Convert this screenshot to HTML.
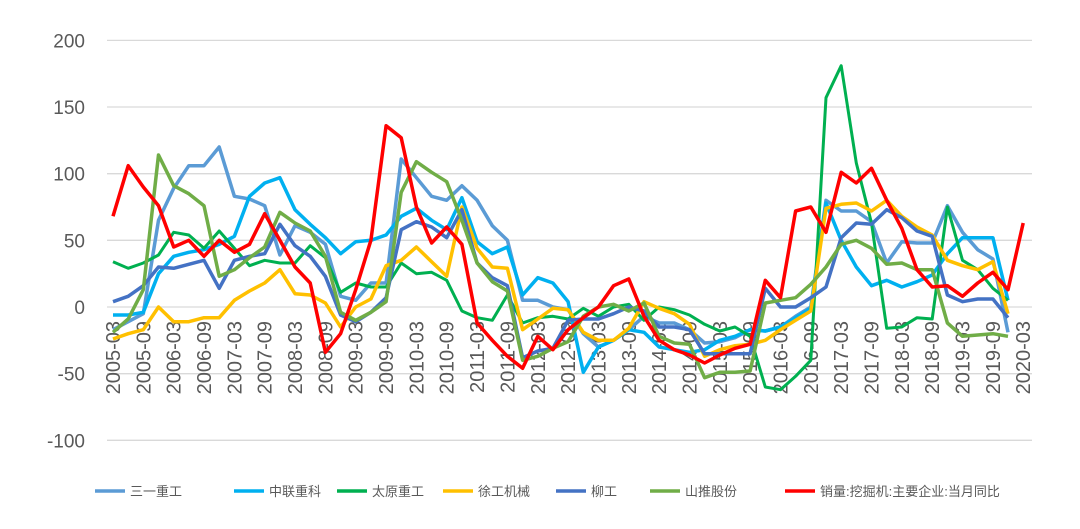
<!DOCTYPE html>
<html><head><meta charset="utf-8"><style>
body{margin:0;background:#fff;width:1080px;height:524px;overflow:hidden;font-family:"Liberation Sans","Noto Sans CJK SC",sans-serif}
</style></head><body>
<svg id="c" width="1080" height="524" xmlns="http://www.w3.org/2000/svg" font-family="Liberation Sans, Noto Sans CJK SC, sans-serif"></svg>
<script>
var svg=document.getElementById('c');var h='';
function Y(v){return 307-v*1.3333;}
function X(i){return 113+i*15.17;}
[200,150,100,50,0,-50,-100].forEach(function(v){
 h+='<line x1="107" x2="1032" y1="'+Y(v)+'" y2="'+Y(v)+'" stroke="#D9D9D9" stroke-width="1.3"/>';
 h+='<text x="85" y="'+(Y(v)+7)+'" text-anchor="end" font-size="19" fill="#595959">'+v+'</text>';
});
for(var k=0;k<31;k++){var yr=2005+Math.floor(k/2),m=k%2?'09':'03';var x=X(2*k)+7;
 h+='<text transform="translate('+x+',321) rotate(-90)" text-anchor="end" font-size="20" fill="#595959">'+yr+'-'+m+'</text>';}
var S=[
['#5B9BD5',3.5,[-17,-11,-5,65,89,106,106,120,83,81,76,39,61,56,47,8,5,18,18,111,97,83,80,91,80,61,50,5,5,0,-2,-20,-30,-25,-17,-7,-12,-12,-17,-27,-26,-23,-17,-18,-15,-7,0,80,72,72,64,33,49,48,48,76,56,43,36,-19]],
['#00B0F0',3.5,[-6,-6,-4,25,38,41,43,47,53,83,93,97,73,62,52,40,49,50,54,68,74,65,58,82,49,40,45,9,22,18,4,-49,-30,-25,-17,-19,-30,-32,-34,-32,-25,-22,-17,-18,-15,-8,-1,78,50,30,16,20,15,19,24,40,52,52,52,5]],
['#00B050',3,[34,29,33,39,56,54,44,57,44,31,35,33,33,46,37,11,18,15,15,33,25,26,20,-3,-8,-10,9,-12,-8,-7,-9,-1,-7,0,2,-10,0,-2,-6,-13,-18,-15,-22,-60,-62,-52,-40,157,181,108,63,-16,-15,-8,-9,75,35,28,14,5]],
['#FFC000',3.5,[-24,-20,-17,0,-11,-11,-8,-8,5,12,18,28,10,9,3,-15,0,6,31,35,45,34,23,75,44,30,29,-17,-9,-1,-2,-19,-25,-25,-16,4,-1,-5,-13,-37,-32,-29,-28,-25,-17,-10,-3,74,77,78,72,80,68,60,54,35,31,28,34,-5]],
['#4472C4',3.5,[4,8,16,30,29,32,35,14,35,38,40,62,46,38,23,-6,-11,-4,7,58,64,60,52,73,33,22,16,-38,-33,-31,-10,-9,-9,-5,0,-3,-15,-15,-17,-35,-35,-35,-35,14,0,0,7,15,52,63,62,73,67,57,53,9,4,6,6,-8]],
['#70AD47',3.5,[-19,-9,13,114,91,85,76,23,28,37,45,71,63,57,38,-4,-10,-4,4,86,109,101,94,65,33,19,12,-40,-37,-31,-26,-7,0,2,-3,3,-22,-27,-28,-53,-49,-49,-48,3,5,7,17,30,47,50,44,32,33,28,28,-12,-22,-21,-20,-22]],
['#FF0000',3.5,[68,106,90,76,45,50,38,50,41,47,70,50,30,18,-34,-20,13,50,136,127,75,48,60,47,-12,-25,-37,-46,-22,-32,-17,-8,0,16,21,-7,-25,-32,-36,-42,-36,-31,-28,20,7,72,75,56,101,93,104,80,59,28,15,16,8,18,26,13,63]]
];
S.forEach(function(s){var p=s[2].map(function(v,i){return X(i).toFixed(1)+','+Y(v).toFixed(1)}).join(' ');
 h+='<polyline points="'+p+'" fill="none" stroke="'+s[0]+'" stroke-width="'+s[1]+'" stroke-linejoin="round"/>';});
var L=[['三一重工',95,'#5B9BD5'],['中联重科',234,'#00B0F0'],['太原重工',337,'#00B050'],['徐工机械',443,'#FFC000'],['柳工',556,'#4472C4'],['山推股份',650,'#70AD47'],['销量:挖掘机:主要企业:当月同比',785,'#FF0000']];
L.forEach(function(l){h+='<line x1="'+l[1]+'" x2="'+(l[1]+30)+'" y1="491" y2="491" stroke="'+l[2]+'" stroke-width="3.5"/>';
 h+='<text x="'+(l[1]+35)+'" y="496" font-size="13" fill="#595959">'+l[0]+'</text>';});
svg.innerHTML=h;
</script>
</body></html>
